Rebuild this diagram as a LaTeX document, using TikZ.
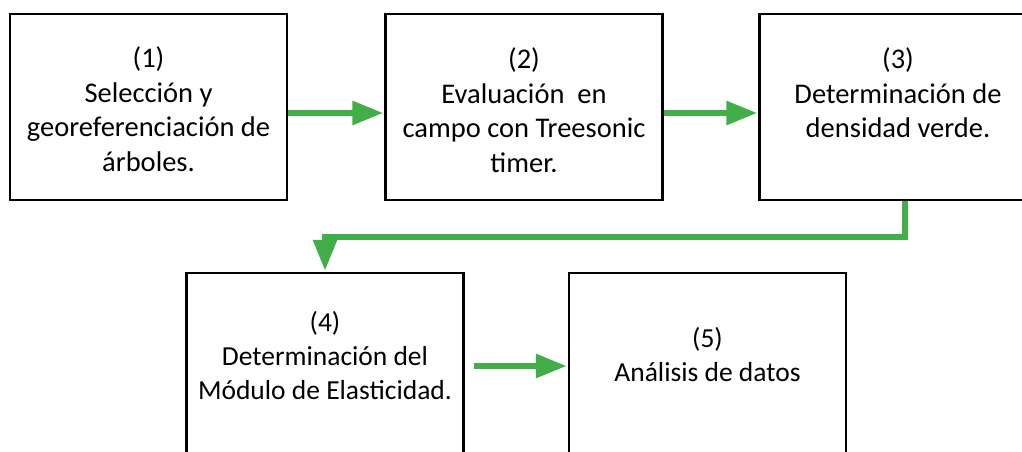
\documentclass[tikz,border=0pt]{standalone}
\usepackage{fontspec}
\setmainfont{Carlito}
\usepackage{xcolor}
\usepackage{tikz}
\usetikzlibrary{arrows.meta,positioning,calc}
\definecolor{flowgreen}{RGB}{66,174,72}

\begin{document}
\begin{tikzpicture}[
    x=1pt, y=-1pt,
    font=\fontsize{28.5}{34.5}\selectfont,
    box/.style={rectangle, draw=black, line width=2.5pt, minimum width=277pt, minimum height=186pt, inner sep=0pt},
    txt/.style={align=center, inner sep=0pt},
    smalltxt/.style={txt, font=\fontsize{27.5}{34}\selectfont},
    flow/.style={draw=flowgreen, line width=6pt, -{Triangle[length=31pt, width=23pt]}, shorten >=1pt}
]
    \useasboundingbox (0,0) rectangle (1022,452);
    \clip (0,0) rectangle (1022,452);

    % Top row
    \node[box] (sel) at (148.5,107) {};
    \node[box] (eval) at (524,107) {};
    \node[box] (dens) at (898,107) {};
    \node[txt, below=34pt of sel.north] (selt) {(1)\\Selección y\\georeferenciación de\\árboles.};
    \node[txt, below=35pt of eval.north] (evalt) {(2)\\Evaluación~ en\\campo con Treesonic\\timer.};
    \node[txt, below=35pt of dens.north] (denst) {(3)\\Determinación de\\densidad verde.};

    % Bottom row
    \node[box] (mod) at (325,366) {};
    \node[box] (ana) at (707.5,366) {};
    \node[smalltxt, below=39pt of mod.north] (modt) {(4)\\Determinación del\\Módulo de Elasticidad.};
    \node[smalltxt, below=55pt of ana.north] (anat) {(5)\\Análisis de datos};

    % Arrows
    \draw[flow] ([yshift=-6pt]sel.east) -- ([yshift=-6pt]eval.west);
    \draw[flow] ([yshift=-6pt]eval.east) -- ([yshift=-6pt]dens.west);
    \draw[flow] ([xshift=7pt]dens.south) -- ++(0,36) -| (mod.north);
    \draw[flow] ([xshift=9pt]mod.east) -- (ana.west);
\end{tikzpicture}
\end{document}
